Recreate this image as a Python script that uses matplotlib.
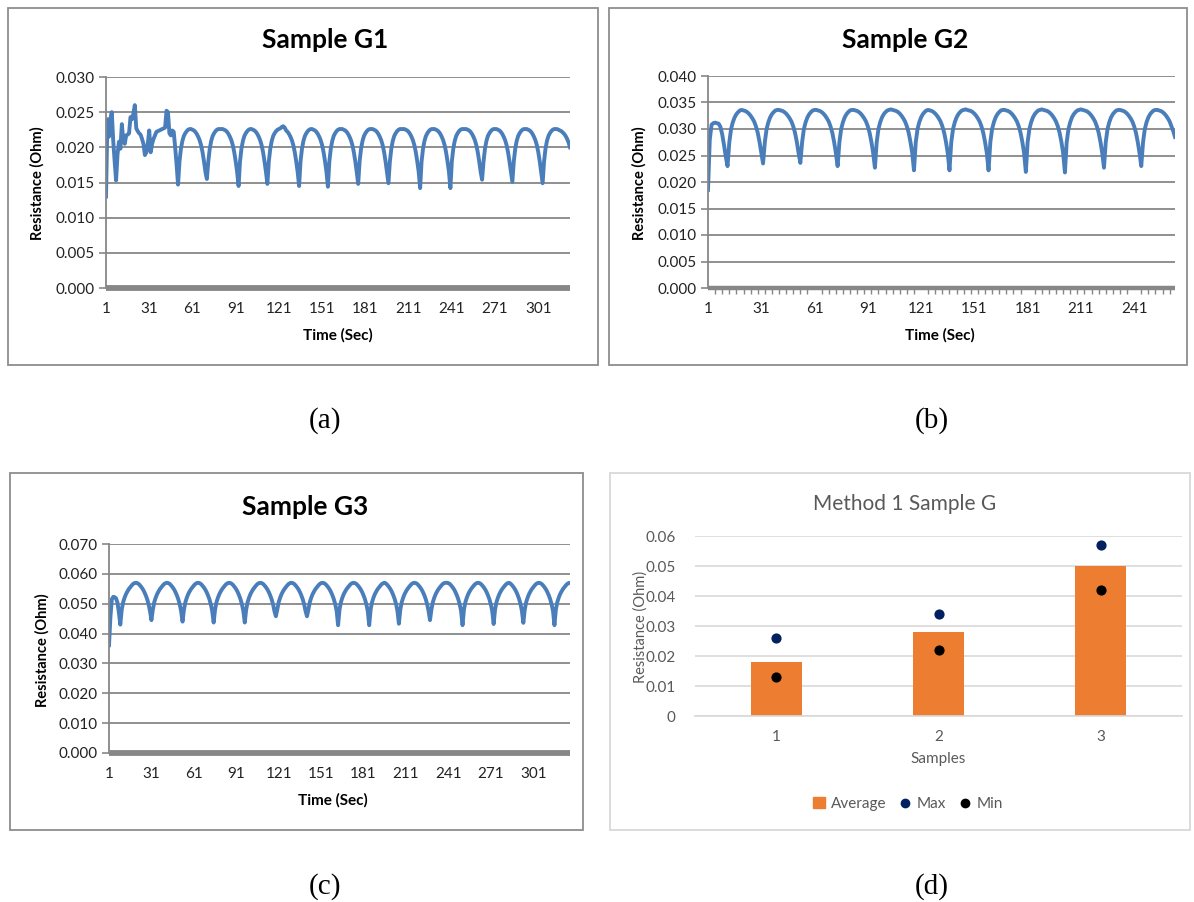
import numpy as np
import matplotlib
matplotlib.use("Agg")
import matplotlib.pyplot as plt
from matplotlib.patches import Rectangle
from matplotlib.lines import Line2D

# resistance readings, mOhm, one value per second
g1_mohm = [
    13.0, 24.0, 21.5, 24.0, 25.0, 21.0, 18.0, 15.3, 19.0, 20.8,
    19.8, 23.3, 21.0, 20.5, 21.7, 21.8, 22.0, 24.3, 24.0, 24.8,
    26.0, 22.7, 22.3, 22.0, 21.8, 21.2, 20.5, 18.9, 19.3, 20.5,
    22.4, 19.3, 20.5, 21.2, 21.7, 22.2, 22.3, 22.4, 22.5, 22.6,
    22.7, 22.8, 25.2, 25.0, 22.0, 21.7, 22.4, 22.2, 20.0, 17.5,
    14.7, 18.0, 19.8, 20.9, 21.6, 22.0, 22.3, 22.5, 22.6, 22.6, 22.5, 22.4, 22.2, 21.9, 21.5, 21.0, 20.3, 19.3, 18.0, 16.5,
    15.5, 18.0, 19.8, 20.9, 21.6, 22.0, 22.3, 22.5, 22.6, 22.6, 22.6, 22.6, 22.5, 22.4, 22.2, 21.9, 21.5, 21.0, 20.3, 19.3, 18.0, 16.5,
    14.5, 18.0, 19.8, 20.9, 21.6, 22.0, 22.3, 22.5, 22.6, 22.6, 22.5, 22.4, 22.2, 21.9, 21.5, 21.0, 20.3, 19.3, 18.0, 16.5,
    14.8, 18.0, 19.8, 20.9, 21.6, 22.0, 22.3, 22.5, 22.6, 22.7, 22.9, 23.0, 22.8, 22.4, 22.2, 21.9, 21.5, 21.0, 20.3, 19.3, 18.0, 16.5,
    14.5, 18.0, 19.8, 20.9, 21.6, 22.0, 22.3, 22.5, 22.6, 22.6, 22.5, 22.4, 22.2, 21.9, 21.5, 21.0, 20.3, 19.3, 18.0, 16.5,
    14.4, 18.0, 19.8, 20.9, 21.6, 22.0, 22.3, 22.5, 22.6, 22.6, 22.6, 22.5, 22.4, 22.2, 21.9, 21.5, 21.0, 20.3, 19.3, 18.0, 16.5,
    14.8, 18.0, 19.8, 20.9, 21.6, 22.0, 22.3, 22.5, 22.6, 22.6, 22.6, 22.5, 22.4, 22.2, 21.9, 21.5, 21.0, 20.3, 19.3, 18.0, 16.5,
    14.9, 18.0, 19.8, 20.9, 21.6, 22.0, 22.3, 22.5, 22.6, 22.6, 22.6, 22.6, 22.5, 22.4, 22.2, 21.9, 21.5, 21.0, 20.3, 19.3, 18.0, 16.5,
    14.2, 18.0, 19.8, 20.9, 21.6, 22.0, 22.3, 22.5, 22.6, 22.6, 22.6, 22.5, 22.4, 22.2, 21.9, 21.5, 21.0, 20.3, 19.3, 18.0, 16.5,
    14.2, 18.0, 19.8, 20.9, 21.6, 22.0, 22.3, 22.5, 22.6, 22.6, 22.6, 22.6, 22.5, 22.4, 22.2, 21.9, 21.5, 21.0, 20.3, 19.3, 18.0, 16.5,
    15.4, 18.0, 19.8, 20.9, 21.6, 22.0, 22.3, 22.5, 22.6, 22.6, 22.6, 22.5, 22.4, 22.2, 21.9, 21.5, 21.0, 20.3, 19.3, 18.0, 16.5,
    15.1, 18.0, 19.8, 20.9, 21.6, 22.0, 22.3, 22.5, 22.6, 22.6, 22.6, 22.5, 22.4, 22.2, 21.9, 21.5, 21.0, 20.3, 19.3, 18.0, 16.5,
    14.9, 18.0, 19.8, 20.9, 21.6, 22.0, 22.3, 22.5, 22.6, 22.6, 22.6, 22.5, 22.4, 22.3, 22.1, 21.9, 21.6, 21.2, 20.7, 20.0,
]

g2_mohm = [
    18.5, 28.0, 30.8, 31.1, 31.2, 31.1, 31.0, 30.4, 29.0, 27.0, 24.8,
    23.0, 27.5, 30.0, 31.3, 32.2, 32.8, 33.2, 33.5, 33.6, 33.5, 33.4, 33.2, 32.9, 32.5, 32.0, 31.4, 30.5, 29.3, 27.6, 25.5,
    23.5, 27.5, 30.0, 31.3, 32.2, 32.8, 33.2, 33.5, 33.6, 33.6, 33.5, 33.4, 33.2, 32.9, 32.5, 32.0, 31.4, 30.5, 29.3, 27.6, 25.5,
    23.6, 27.5, 30.0, 31.3, 32.2, 32.8, 33.2, 33.5, 33.6, 33.6, 33.5, 33.4, 33.2, 32.9, 32.5, 32.0, 31.4, 30.5, 29.3, 27.6, 25.5,
    23.0, 27.5, 30.0, 31.3, 32.2, 32.8, 33.2, 33.5, 33.6, 33.6, 33.5, 33.4, 33.2, 32.9, 32.5, 32.0, 31.4, 30.5, 29.3, 27.6, 25.5,
    22.7, 27.5, 30.0, 31.3, 32.2, 32.8, 33.2, 33.5, 33.6, 33.7, 33.6, 33.5, 33.4, 33.2, 32.9, 32.5, 32.0, 31.4, 30.5, 29.3, 27.6, 25.5,
    22.2, 27.5, 30.0, 31.3, 32.2, 32.8, 33.2, 33.5, 33.6, 33.5, 33.4, 33.2, 32.9, 32.5, 32.0, 31.4, 30.5, 29.3, 27.6, 25.5,
    22.2, 27.5, 30.0, 31.3, 32.2, 32.8, 33.2, 33.5, 33.6, 33.7, 33.6, 33.5, 33.4, 33.2, 32.9, 32.5, 32.0, 31.4, 30.5, 29.3, 27.6, 25.5,
    22.2, 27.5, 30.0, 31.3, 32.2, 32.8, 33.2, 33.5, 33.6, 33.6, 33.5, 33.4, 33.2, 32.9, 32.5, 32.0, 31.4, 30.5, 29.3, 27.6, 25.5,
    21.9, 27.5, 30.0, 31.3, 32.2, 32.8, 33.2, 33.5, 33.6, 33.7, 33.6, 33.5, 33.4, 33.2, 32.9, 32.5, 32.0, 31.4, 30.5, 29.3, 27.6, 25.5,
    21.8, 27.5, 30.0, 31.3, 32.2, 32.8, 33.2, 33.5, 33.6, 33.7, 33.6, 33.5, 33.4, 33.2, 32.9, 32.5, 32.0, 31.4, 30.5, 29.3, 27.6, 25.5,
    22.7, 27.5, 30.0, 31.3, 32.2, 32.8, 33.2, 33.5, 33.6, 33.6, 33.5, 33.4, 33.2, 32.9, 32.5, 32.0, 31.4, 30.5, 29.3, 27.6, 25.5,
    23.0, 27.5, 30.0, 31.3, 32.2, 32.8, 33.2, 33.5, 33.6, 33.6, 33.5, 33.4, 33.2, 32.9, 32.5, 32.0, 31.4, 30.5, 29.6, 28.5,
]

g3_mohm = [
    36.1, 45.5, 51.5, 52.3, 52.2, 51.8, 50.3, 47.0,
    43.0, 48.0, 50.5, 52.0, 53.2, 54.1, 54.9, 55.5, 56.1, 56.6, 56.9, 57.0, 56.9, 56.6, 56.1, 55.5, 54.8, 53.9, 52.8, 51.5, 49.8, 47.5,
    44.5, 48.0, 50.5, 52.0, 53.2, 54.1, 54.9, 55.5, 56.1, 56.6, 56.9, 57.0, 56.9, 56.6, 56.1, 55.5, 54.8, 53.9, 52.8, 51.5, 49.8, 47.5,
    44.0, 48.0, 50.5, 52.0, 53.2, 54.1, 54.9, 55.5, 56.1, 56.6, 56.9, 57.0, 56.9, 56.6, 56.1, 55.5, 54.8, 53.9, 52.8, 51.5, 49.8, 47.5,
    43.7, 48.0, 50.5, 52.0, 53.2, 54.1, 54.9, 55.5, 56.1, 56.6, 56.9, 57.0, 56.9, 56.6, 56.1, 55.5, 54.8, 53.9, 52.8, 51.5, 49.8, 47.5,
    43.7, 48.0, 50.5, 52.0, 53.2, 54.1, 54.9, 55.5, 56.1, 56.6, 56.9, 57.0, 56.9, 56.6, 56.1, 55.5, 54.8, 53.9, 52.8, 51.5, 49.8, 47.5,
    45.8, 48.0, 50.5, 52.0, 53.2, 54.1, 54.9, 55.5, 56.1, 56.6, 56.9, 57.0, 56.9, 56.6, 56.1, 55.5, 54.8, 53.9, 52.8, 51.5, 49.8, 47.5,
    45.8, 48.0, 50.5, 52.0, 53.2, 54.1, 54.9, 55.5, 56.1, 56.6, 56.9, 57.0, 56.9, 56.6, 56.1, 55.5, 54.8, 53.9, 52.8, 51.5, 49.8, 47.5,
    42.8, 48.0, 50.5, 52.0, 53.2, 54.1, 54.9, 55.5, 56.1, 56.6, 56.9, 57.0, 56.9, 56.6, 56.1, 55.5, 54.8, 53.9, 52.8, 51.5, 49.8, 47.5,
    42.8, 48.0, 50.5, 52.0, 53.2, 54.1, 54.9, 55.5, 56.1, 56.6, 56.9, 57.0, 56.7, 56.2, 55.6, 54.9, 54.0, 52.9, 51.6, 49.9, 47.5,
    43.3, 48.0, 50.5, 52.0, 53.2, 54.1, 54.9, 55.5, 56.1, 56.6, 56.9, 57.0, 56.9, 56.6, 56.1, 55.5, 54.8, 53.9, 52.8, 51.5, 49.8, 47.5,
    44.5, 48.0, 50.5, 52.0, 53.2, 54.1, 54.9, 55.5, 56.1, 56.6, 56.9, 57.0, 57.0, 56.9, 56.6, 56.1, 55.5, 54.8, 53.9, 52.8, 51.5, 49.8, 47.5,
    42.8, 48.0, 50.5, 52.0, 53.2, 54.1, 54.9, 55.5, 56.1, 56.6, 56.9, 57.0, 56.9, 56.6, 56.1, 55.5, 54.8, 53.9, 52.8, 51.5, 49.8, 47.5,
    43.2, 48.0, 50.5, 52.0, 53.2, 54.1, 54.9, 55.5, 56.1, 56.6, 56.9, 57.0, 56.7, 56.2, 55.6, 54.9, 54.0, 52.9, 51.6, 49.9, 47.5,
    43.6, 48.0, 50.5, 52.0, 53.2, 54.1, 54.9, 55.5, 56.1, 56.6, 56.9, 57.0, 56.9, 56.6, 56.1, 55.5, 54.8, 53.9, 52.8, 51.5, 49.8, 47.5,
    42.8, 48.0, 50.5, 52.0, 53.2, 54.1, 54.9, 55.5, 56.1, 56.6, 56.9, 57.0,
]

# panel (d) summary
samples = [1, 2, 3]
avg_res = [0.018, 0.028, 0.050]
max_res = [0.026, 0.034, 0.057]
min_res = [0.013, 0.022, 0.042]

W, H = 1194, 902
XL = "Lato"
GRAY = "#878787"
BLUE = "#4A7EBB"


def box(x0, y0, x1, y1):
    return [x0 / W, 1 - y1 / H, (x1 - x0) / W, (y1 - y0) / H]


def ftext(x, y, s, **kw):
    fig.text(x / W, 1 - y / H, s, ha="center", va="center", **kw)


def frame(x0, y0, x1, y1, color):
    fig.add_artist(Rectangle((x0 / W, 1 - y1 / H), (x1 - x0) / W, (y1 - y0) / H,
                             transform=fig.transFigure, fill=False,
                             edgecolor=color, linewidth=1.3))


def time_panel(rect, mohm, ymax, ystep, minor_every, title, tpos, ylpos, xlpos):
    ax = fig.add_axes(box(*rect))
    vals = np.array(mohm) / 1000.0
    t = np.arange(1, len(vals) + 1)
    ax.plot(t, vals, color=BLUE, linewidth=2.8, solid_joinstyle="round")
    ax.set_xlim(1, len(vals))
    ax.set_ylim(0, ymax)
    yt = np.arange(0, ymax + ystep / 2, ystep)
    ax.set_yticks(yt)
    ax.set_yticklabels(["%.3f" % v for v in yt], fontsize=11, family=XL, color="#222222")
    xt = np.arange(1, len(vals) + 1, 30)
    ax.set_xticks(xt)
    ax.set_xticklabels([str(v) for v in xt], fontsize=11, family=XL, color="#222222")
    if minor_every:
        ax.set_xticks(np.arange(1, len(vals) + 1, minor_every), minor=True)
        ax.tick_params(axis="x", which="minor", length=4, width=1, color=GRAY, direction="out")
    ax.tick_params(axis="x", which="major", length=0, pad=10)
    ax.tick_params(axis="y", length=5, width=1.2, color=GRAY, pad=3)
    ax.yaxis.grid(True, color=GRAY, linewidth=1.3)
    ax.set_axisbelow(True)
    for s in ["top", "right"]:
        ax.spines[s].set_visible(False)
    ax.spines["left"].set_color(GRAY)
    ax.spines["left"].set_linewidth(1.3)
    ax.spines["bottom"].set_color(GRAY)
    ax.spines["bottom"].set_linewidth(3.2 if minor_every else 4.2)
    ax.spines["bottom"].set_capstyle("butt")
    ax.spines["bottom"].set_zorder(3)
    ftext(*tpos, title, fontsize=19, fontweight="bold", family=XL)
    ftext(*ylpos, "Resistance (Ohm)", fontsize=10.5, fontweight="bold", family=XL, rotation=90)
    ftext(*xlpos, "Time (Sec)", fontsize=11, fontweight="bold", family=XL)
    return ax


fig = plt.figure(figsize=(W / 100, H / 100), dpi=100)
fig.patch.set_facecolor("white")

frame(8, 8, 598, 365, "#8d8d8d")
frame(609, 8, 1187, 365, "#8d8d8d")
frame(10, 473, 583, 830, "#8d8d8d")
frame(610, 473, 1190, 830, "#d9d9d9")

time_panel((106, 77, 570, 288), g1_mohm, 0.030, 0.005, 0, "Sample G1",
           (325, 40), (37, 183), (338, 335))
time_panel((708, 76, 1175, 288), g2_mohm, 0.040, 0.005, 4, "Sample G2",
           (905, 40), (639, 183), (940, 335))
time_panel((109, 544, 570, 753), g3_mohm, 0.070, 0.010, 0, "Sample G3",
           (305, 507), (42, 650), (333, 800))

# panel (d)
axd = fig.add_axes(box(695, 536, 1182, 716))
axd.bar(samples, avg_res, width=0.314, color="#ED7D31", zorder=2, label="Average")
axd.scatter(samples, max_res, s=40, color="#002060", zorder=3, label="Max")
axd.scatter(samples, min_res, s=40, color="black", zorder=3, label="Min")
axd.set_xlim(0.5, 3.5)
axd.set_ylim(0, 0.06)
yt = [0, 0.01, 0.02, 0.03, 0.04, 0.05, 0.06]
axd.set_yticks(yt)
axd.set_yticklabels(["0"] + ["%.2f" % v for v in yt[1:]], fontsize=11, family=XL, color="#595959")
axd.set_xticks(samples)
axd.set_xticklabels([str(s) for s in samples], fontsize=11, family=XL, color="#595959")
axd.tick_params(length=0)
axd.tick_params(axis="x", pad=10)
axd.tick_params(axis="y", pad=14)
axd.yaxis.grid(True, color="#d9d9d9", linewidth=1.2)
axd.set_axisbelow(True)
for s in ["top", "right", "left"]:
    axd.spines[s].set_visible(False)
axd.spines["bottom"].set_color("#d9d9d9")
axd.spines["bottom"].set_linewidth(1.2)
ftext(905, 504, "Method 1 Sample G", fontsize=15, family=XL, color="#595959")
ftext(641, 627, "Resistance (Ohm)", fontsize=10.5, family=XL, color="#595959", rotation=90)
ftext(938, 759, "Samples", fontsize=11, family=XL, color="#595959")
handles = [
    Rectangle((0, 0), 1, 1, color="#ED7D31"),
    Line2D([], [], linestyle="none", marker="o", markersize=6, color="#002060"),
    Line2D([], [], linestyle="none", marker="o", markersize=6, color="black"),
]
fig.legend(handles, ["Average", "Max", "Min"], loc="center",
           bbox_to_anchor=(908 / W, 1 - 804 / H), ncol=3, frameon=False,
           prop={"family": XL, "size": 11}, labelcolor="#595959",
           handlelength=0.8, handletextpad=0.4, columnspacing=0.8)

# captions
for txt, (cx, cy) in zip(["(a)", "(b)", "(c)", "(d)"],
                         [(325, 421), (932, 421), (325, 887), (932, 887)]):
    ftext(cx, cy, txt, fontsize=21, family="Liberation Serif")

fig.savefig("out.png", dpi=100)
